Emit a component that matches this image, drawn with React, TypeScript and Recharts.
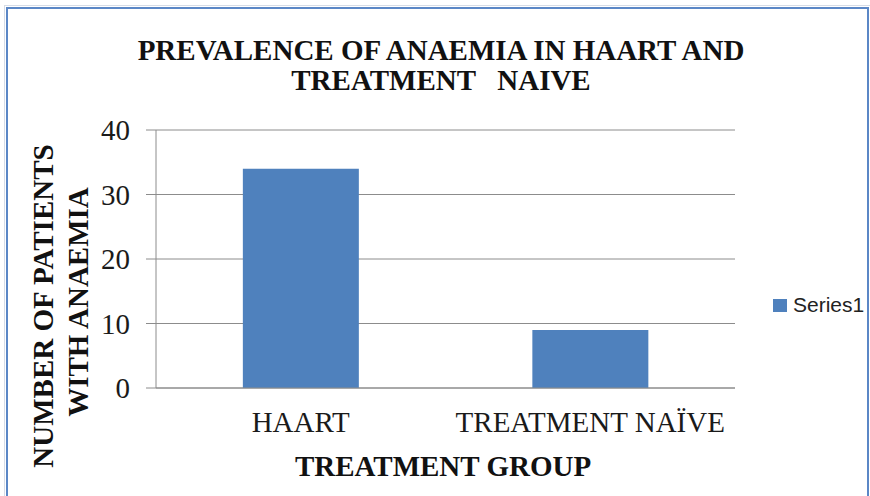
import { BarChart, Bar, XAxis, YAxis, CartesianGrid } from 'recharts';

const groups = ['HAART', 'TREATMENT NAÏVE'];
const anaemiaCounts = [34, 9];
const yTicks = [0, 10, 20, 30, 40];

const data = groups.map((name, i) => ({ name, Series1: anaemiaCounts[i] }));

const SERIF = '"Liberation Serif", "Times New Roman", serif';
const BAR_COLOR = '#4F81BD';
const GRID = '#8c8c8c';

export default function App() {
  return (
    <div style={{ position: 'absolute', left: 0, top: 0, width: 870, height: 496, background: '#fff', overflow: 'hidden' }}>
      <div style={{ position: 'absolute', left: 4, top: 5, width: 866, height: 600, border: '1px solid #d6dce6' }} />
      <div style={{ position: 'absolute', left: 6, top: 7, width: 859, height: 600, border: '2px solid #5b87c6' }} />
      <BarChart
        width={870}
        height={496}
        data={data}
        margin={{ top: 130, right: 135, bottom: 68, left: 0 }}
        barCategoryGap="30%"
        style={{ position: 'absolute', left: 0, top: 0 }}
      >
        <CartesianGrid vertical={false} stroke={GRID} strokeWidth={1} />
        <XAxis
          dataKey="name"
          height={40}
          tickLine={false}
          tickSize={0}
          tickMargin={23}
          axisLine={{ stroke: GRID }}
          tick={{ fill: '#1a1a1a', fontSize: 29, fontFamily: SERIF }}
        />
        <YAxis
          width={156}
          domain={[0, 40]}
          ticks={yTicks}
          tickSize={10}
          tickMargin={16}
          axisLine={{ stroke: GRID }}
          tickLine={{ stroke: GRID }}
          tick={{ fill: '#1a1a1a', fontSize: 29, fontFamily: SERIF }}
        />
        <Bar dataKey="Series1" fill={BAR_COLOR} isAnimationActive={false} />
      </BarChart>
      <svg width={870} height={496} style={{ position: 'absolute', left: 0, top: 0, pointerEvents: 'none' }}>
        <g fontFamily={SERIF} fontWeight="bold" fontSize={29} fill="#111">
          <text x={441} y={60} textAnchor="middle">PREVALENCE OF ANAEMIA IN HAART  AND</text>
          <text x={441} y={90} textAnchor="middle" style={{ whiteSpace: 'pre' }}>TREATMENT   NAIVE</text>
          <text x={443} y={476} textAnchor="middle">TREATMENT GROUP</text>
          <text transform="translate(53,306) rotate(-90)" textAnchor="middle">NUMBER OF PATIENTS</text>
          <text transform="translate(88,302) rotate(-90)" textAnchor="middle">WITH ANAEMIA</text>
        </g>
      </svg>
      <div style={{ position: 'absolute', left: 773, top: 293, display: 'flex', alignItems: 'center', fontFamily: '"Liberation Sans", Arial, sans-serif', fontSize: 21, color: '#222' }}>
        <span style={{ display: 'inline-block', width: 14, height: 13, background: BAR_COLOR, marginRight: 6 }} />
        Series1
      </div>
    </div>
  );
}
